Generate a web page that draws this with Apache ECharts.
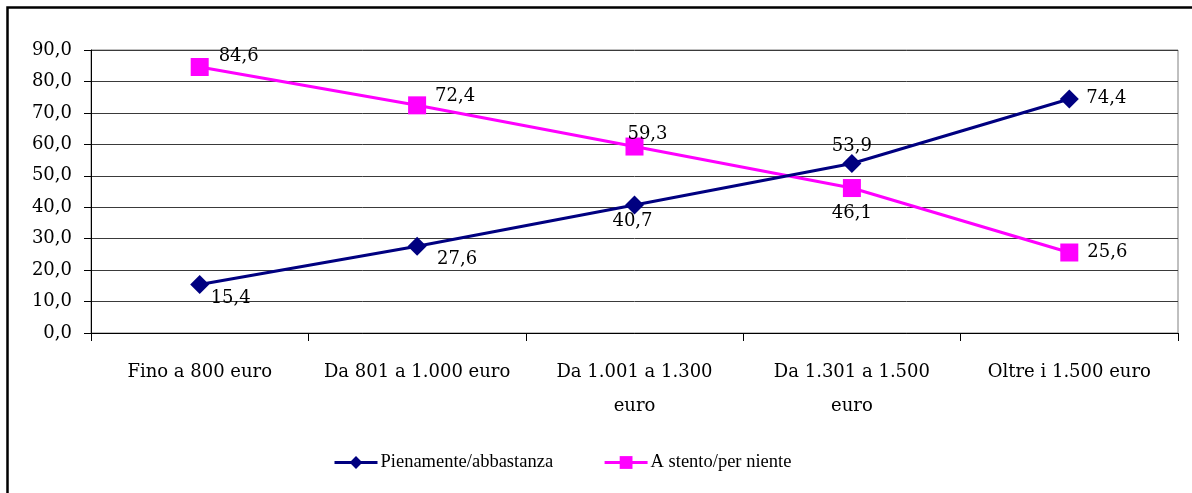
<!DOCTYPE html>
<html>
<head>
<meta charset="utf-8">
<script src="https://cdn.jsdelivr.net/npm/echarts@6/dist/echarts.min.js"></script>
<style>
  html, body { margin: 0; padding: 0; background: #ffffff; }
  #chart { width: 1192px; height: 493px; }
</style>
</head>
<body>
<div id="chart"></div>
<script>
// Income bands
const categories = [
  'Fino a 800 euro',
  'Da 801 a 1.000 euro',
  'Da 1.001 a 1.300\neuro',
  'Da 1.301 a 1.500\neuro',
  'Oltre i 1.500 euro'
];

// Shares (%) by income band
const pienamente = [15.4, 27.6, 40.7, 53.9, 74.4];
const aStento = [84.6, 72.4, 59.3, 46.1, 25.6];

const seriesNames = ['Pienamente/abbastanza', 'A stento/per niente'];

// Y axis
const yMin = 0, yMax = 90, yStep = 10;

// Label offsets (px) around each marker
const pienamenteLabelOffsets = [[31, 14], [40, 13], [-2, 16], [0, -17], [37, -1]];
const aStentoLabelOffsets = [[39, -11], [38, -9], [13, -12], [0, 25], [38, 0]];

const FONT = 'DejaVu Serif';
const LEGEND_FONT = 'Liberation Serif';
const fmt = v => v.toFixed(1).replace('.', ',');

function withLabels(values, offsets) {
  return values.map((v, i) => ({
    value: v,
    label: { offset: offsets[i] }
  }));
}

const chart = echarts.init(document.getElementById('chart'), null, { renderer: 'canvas' });

chart.setOption({
  animation: false,
  backgroundColor: '#ffffff',
  textStyle: { fontFamily: FONT },
  graphic: [{
    type: 'rect',
    shape: { x: 7.5, y: 7.5, width: 1200, height: 500 },
    style: { fill: 'none', stroke: '#000000', lineWidth: 2.5 },
    silent: true
  }],
  grid: {
    left: 91, right: 14, top: 50, bottom: 160,
    show: true, borderColor: '#808080', borderWidth: 1
  },
  legend: {
    left: 333, top: 453, padding: 0,
    itemWidth: 43, itemHeight: 16, itemGap: 50,
    lineStyle: { width: 3 },
    textStyle: { fontFamily: LEGEND_FONT, fontSize: 18.5, color: '#000000', padding: [0, 0, 0, -2] },
    data: seriesNames
  },
  xAxis: {
    type: 'category',
    data: categories,
    boundaryGap: true,
    axisLine: { lineStyle: { color: '#000000', width: 1 } },
    axisTick: { show: true, length: 8, alignWithLabel: false, lineStyle: { color: '#000000' } },
    axisLabel: {
      interval: 0, margin: 22, color: '#000000',
      fontFamily: FONT, fontSize: 18, lineHeight: 34
    },
    splitLine: { show: false }
  },
  yAxis: {
    type: 'value',
    min: yMin, max: yMax, interval: yStep,
    axisLine: { show: true, lineStyle: { color: '#000000', width: 1 } },
    axisTick: { show: true, length: 7, lineStyle: { color: '#000000' } },
    axisLabel: {
      margin: 19, color: '#000000', fontFamily: FONT, fontSize: 18,
      formatter: v => fmt(v)
    },
    splitLine: { show: true, lineStyle: { color: '#3a3a3a', width: 1 } }
  },
  series: [
    {
      name: seriesNames[0],
      type: 'line',
      data: withLabels(pienamente, pienamenteLabelOffsets),
      symbol: 'diamond',
      symbolSize: 19,
      color: '#000080',
      lineStyle: { color: '#000080', width: 3 },
      itemStyle: { color: '#000080' },
      label: {
        show: true, position: 'inside', color: '#000000',
        fontFamily: FONT, fontSize: 18,
        formatter: p => fmt(p.value)
      },
      z: 3
    },
    {
      name: seriesNames[1],
      type: 'line',
      data: withLabels(aStento, aStentoLabelOffsets),
      symbol: 'rect',
      symbolSize: 18,
      color: '#ff00ff',
      lineStyle: { color: '#ff00ff', width: 3 },
      itemStyle: { color: '#ff00ff' },
      label: {
        show: true, position: 'inside', color: '#000000',
        fontFamily: FONT, fontSize: 18,
        formatter: p => fmt(p.value)
      },
      z: 2
    }
  ]
});
</script>
</body>
</html>
